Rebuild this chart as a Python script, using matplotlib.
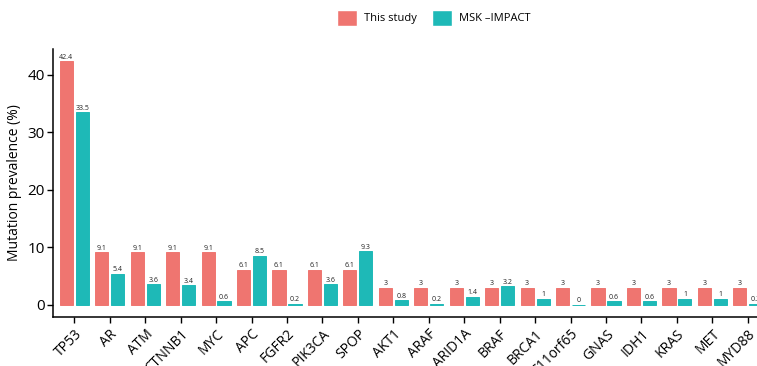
import numpy as np
import matplotlib.pyplot as plt
from matplotlib.patches import Patch

plt.rcParams['font.family'] = ['Open Sans', 'DejaVu Sans']

genes = ['TP53', 'AR', 'ATM', 'CTNNB1', 'MYC', 'APC', 'FGFR2', 'PIK3CA', 'SPOP',
         'AKT1', 'ARAF', 'ARID1A', 'BRAF', 'BRCA1', 'C11orf65', 'GNAS', 'IDH1',
         'KRAS', 'MET', 'MYD88']
this_study = [42.4, 9.1, 9.1, 9.1, 9.1, 6.1, 6.1, 6.1, 6.1,
              3, 3, 3, 3, 3, 3, 3, 3, 3, 3, 3]
msk_impact = [33.5, 5.4, 3.6, 3.4, 0.6, 8.5, 0.2, 3.6, 9.3,
              0.8, 0.2, 1.4, 3.2, 1, 0, 0.6, 0.6, 1, 1, 0.2]
series_names = ['This study', 'MSK \u2013IMPACT']
colors = ['#EF7570', '#1EB9B7']

fig = plt.figure(figsize=(7.57, 3.66), dpi=100)
ax = fig.add_axes([0.070, 0.134, 0.946, 0.732])

x = np.arange(len(genes))
slot = 0.45   # dodge slot per series
w = 0.37      # visible bar width
for i, (vals, c) in enumerate(zip([this_study, msk_impact], colors)):
    pos = x + (i - 0.5) * slot
    ax.bar(pos, vals, width=w, color=c, edgecolor=c, linewidth=0.7)
    for p, v in zip(pos, vals):
        ax.text(p, v + 0.1, '%g' % v, ha='center', va='bottom', fontsize=5,
                color='#222222')

ax.set_xlim(-0.6, len(genes) - 1 + 0.6)
ax.set_ylim(-2.12, 44.5)
ax.set_xticks(x)
ax.set_xticklabels(genes, rotation=45, ha='right', rotation_mode='anchor',
                   fontsize=10)
ax.set_yticks([0, 10, 20, 30, 40])
ax.tick_params(axis='y', labelsize=11, length=4, width=1, pad=2)
ax.tick_params(axis='x', length=4, width=1, pad=3)
ax.set_ylabel('Mutation prevalence (%)', fontsize=10)
for s in ['top', 'right']:
    ax.spines[s].set_visible(False)
for s in ['left', 'bottom']:
    ax.spines[s].set_linewidth(1.1)

handles = [Patch(facecolor=c, edgecolor='white', label=n)
           for c, n in zip(colors, series_names)]
fig.legend(handles=handles, loc='upper center', bbox_to_anchor=(0.573, 1.0),
           ncol=2, frameon=False, fontsize=8, handlelength=1.8,
           handleheight=1.8, columnspacing=1.4, handletextpad=0.6,
           borderaxespad=0.5)

fig.savefig('out.png', dpi=100)
